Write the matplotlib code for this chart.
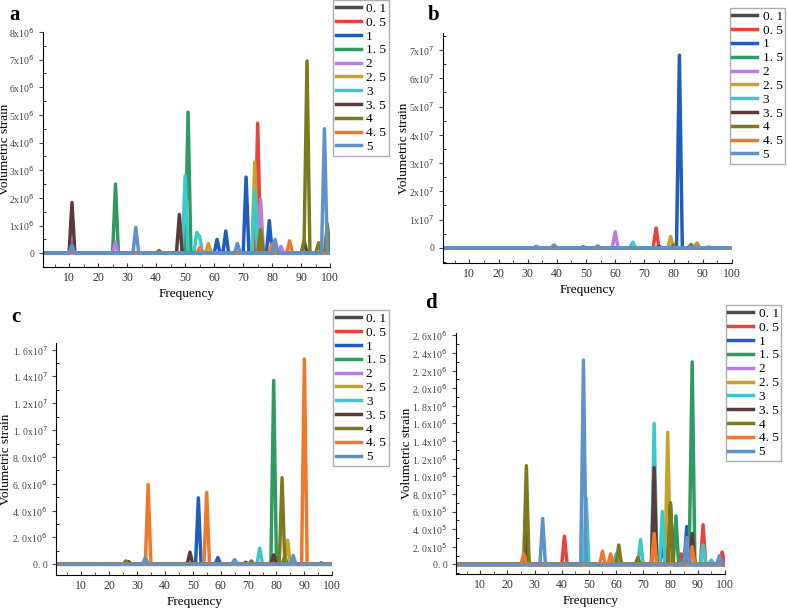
import matplotlib
matplotlib.use("Agg")
import matplotlib.pyplot as plt
import numpy as np
from matplotlib.ticker import FixedLocator, MultipleLocator, FuncFormatter

plt.rcParams["font.family"] = ["Liberation Serif", "DejaVu Serif"]

freq = np.arange(1, 101)
labels = ["0.1", "0.5", "1", "1.5", "2", "2.5", "3", "3.5", "4", "4.5", "5"]
legend_text = ["0. 1", "0. 5", "1", "1. 5", "2", "2. 5", "3", "3. 5", "4", "4. 5", "5"]
colors = ["#4a4a4a", "#e8413e", "#1f5cc0", "#2f9a62", "#b47fe0", "#c8a22a",
          "#3cc9c9", "#5b3a3c", "#7b7a1c", "#f0782c", "#5f92c8"]

# peak (frequency, volumetric strain) pairs; other frequencies are ~0
peaks_a = {
    "0.1": [(74, 0.15e6), (91, 0.45e6)],
    "0.5": [(75, 4.7e6), (80, 0.3e6)],
    "1": [(61, 0.5e6), (64, 0.8e6), (71, 2.75e6), (79, 1.18e6)],
    "1.5": [(26, 2.5e6), (51, 5.1e6)],
    "2": [(11, 0.4e6), (26, 0.4e6), (76, 1.95e6), (83, 0.25e6)],
    "2.5": [(58, 0.35e6), (74, 3.3e6)],
    "3": [(50, 2.8e6), (54, 0.75e6), (55, 0.6e6), (74, 2.3e6)],
    "3.5": [(11, 1.83e6), (48, 1.4e6)],
    "4": [(41, 0.1e6), (76, 0.85e6), (91, 0.4e6), (92, 6.95e6), (96, 0.38e6), (99, 1.05e6)],
    "4.5": [(55, 0.2e6), (80, 0.35e6), (86, 0.45e6)],
    "5": [(11, 0.3e6), (33, 0.93e6), (68, 0.35e6), (81, 0.5e6), (98, 4.5e6)],
}
peaks_b = {
    "0.1": [(49, 0.03e7)],
    "0.5": [(74, 0.7e7)],
    "1": [(82, 6.82e7)],
    "1.5": [(86, 0.12e7)],
    "2": [(60, 0.57e7)],
    "2.5": [(79, 0.4e7)],
    "3": [(66, 0.2e7)],
    "3.5": [(75, 0.05e7)],
    "4": [(80, 0.1e7)],
    "4.5": [(88, 0.17e7)],
    "5": [(33, 0.05e7), (39, 0.1e7), (54, 0.07e7), (92, 0.03e7)],
}
peaks_c = {
    "0.1": [(15, 0.05e6), (27, 0.2e6), (96, 0.1e6)],
    "0.5": [(80, 0.2e6)],
    "1": [(52, 4.95e6), (59, 0.5e6), (69, 0.15e6)],
    "1.5": [(79, 13.7e6), (83, 0.6e6)],
    "2": [(65, 0.3e6)],
    "2.5": [(84, 1.8e6)],
    "3": [(33, 0.5e6), (74, 1.2e6)],
    "3.5": [(49, 0.9e6), (79, 0.7e6)],
    "4": [(26, 0.25e6), (71, 0.25e6), (82, 6.45e6)],
    "4.5": [(34, 5.95e6), (55, 5.35e6), (90, 15.3e6)],
    "5": [(33, 0.4e6), (65, 0.35e6), (86, 0.65e6)],
}
peaks_d = {
    "0.1": [(74, 0.5e6), (80, 0.2e6)],
    "0.5": [(41, 0.32e6), (84, 0.12e6), (92, 0.45e6), (99, 0.14e6)],
    "1": [(77, 0.25e6), (86, 0.43e6)],
    "1.5": [(82, 0.55e6), (87, 0.3e6), (88, 2.3e6)],
    "2": [(86, 0.3e6)],
    "2.5": [(27, 0.1e6), (61, 0.1e6), (79, 1.5e6)],
    "3": [(49, 0.75e6), (60, 0.12e6), (69, 0.28e6), (74, 1.6e6), (77, 0.6e6), (92, 0.22e6), (95, 0.05e6)],
    "3.5": [(27, 0.35e6), (74, 1.1e6), (80, 0.68e6), (88, 0.35e6)],
    "4": [(27, 1.12e6), (61, 0.22e6), (68, 0.08e6), (80, 0.7e6)],
    "4.5": [(26, 0.12e6), (55, 0.15e6), (58, 0.12e6), (74, 0.35e6), (88, 0.2e6)],
    "5": [(33, 0.52e6), (48, 2.32e6), (86, 0.3e6), (98, 0.1e6)],
}


def sci_label(v, exp, decimals):
    if v == 0:
        return "0. 0" if decimals else "0"
    m = v / 10 ** exp
    if decimals:
        s = f"{m:.1f}".replace(".", ". ")
    else:
        s = f"{m:.0f}"
    return s + "x10$^{" + str(exp) + "}$"


def draw_panel(ax, peaks, ylim, yticks, exp_for, decimals, minor_step, letter, letter_xy,
               legend_xy, ylabel_x):
    for lab, col in zip(labels, colors):
        y = np.zeros_like(freq, dtype=float)
        for f, v in peaks[lab]:
            y[f - 1] = v
        ax.plot(freq, y, color=col, lw=1.8, label=lab)
    ax.set_xlim(1, 100)
    ax.set_ylim(*ylim)
    for s in ("top", "right"):
        ax.spines[s].set_visible(False)
    ax.xaxis.set_major_locator(MultipleLocator(10))
    ax.xaxis.set_minor_locator(MultipleLocator(5))
    ax.yaxis.set_major_locator(FixedLocator(yticks))
    ax.yaxis.set_minor_locator(MultipleLocator(minor_step))
    ax.yaxis.set_major_formatter(FuncFormatter(lambda v, p: sci_label(v, exp_for(v), decimals)))
    ax.tick_params(axis="x", which="both", direction="in", labelsize=8.5, colors="#333333")
    ax.tick_params(axis="y", which="major", direction="out", labelsize=7, colors="#444444", pad=3)
    ax.tick_params(axis="y", which="minor", direction="in")
    ax.tick_params(which="major", length=3)
    ax.tick_params(which="minor", length=2)
    ax.set_xlabel("Frequency", fontsize=9.5, labelpad=3)
    ax.set_ylabel("Volumetric strain", fontsize=9.5)
    ax.yaxis.set_label_coords(ylabel_x, 0.5)
    fig.text(letter_xy[0], letter_xy[1], letter, fontsize=15, fontweight="bold", va="baseline")
    handles, _ = ax.get_legend_handles_labels()
    for h in handles:
        h.set_linewidth(2.5)
    ax.legend(handles, legend_text, loc="upper left", bbox_to_anchor=legend_xy,
              bbox_transform=fig.transFigure, fontsize=9.5, labelspacing=0.12,
              handlelength=1.9, handletextpad=0.4, borderpad=0.2, borderaxespad=0,
              frameon=True, fancybox=False, edgecolor="#999999")


fig = plt.figure(figsize=(7.87, 6.14), dpi=100)
ax_a = fig.add_axes([0.0546, 0.565, 0.365, 0.383])
ax_b = fig.add_axes([0.563, 0.572, 0.367, 0.374])
ax_c = fig.add_axes([0.0712, 0.0635, 0.351, 0.378])
ax_d = fig.add_axes([0.579, 0.065, 0.342, 0.393])

draw_panel(ax_a, peaks_a, (-0.5e6, 8.0e6), np.arange(0, 9) * 1e6, lambda v: 6, False, 0.5e6,
           "a", (0.012, 0.967), (0.423, 1.0), -0.11)
draw_panel(ax_b, peaks_b, (-0.53e7, 7.6e7), np.arange(0, 8) * 1e7, lambda v: 7, False, 0.5e7,
           "b", (0.543, 0.967), (0.927, 0.987), -0.114)
draw_panel(ax_c, peaks_c, (-0.8e6, 1.65e7), np.arange(0, 9) * 2e6,
           lambda v: 7 if v >= 1e7 else 6, True, 1e6,
           "c", (0.014, 0.476), (0.423, 0.495), -0.159)
draw_panel(ax_d, peaks_d, (-0.11e6, 2.63e6), np.arange(0, 14) * 2e5,
           lambda v: 6 if v >= 1e6 else 5, True, 1e5,
           "d", (0.54, 0.498), (0.922, 0.503), -0.16)

fig.savefig("out.png", dpi=100)
